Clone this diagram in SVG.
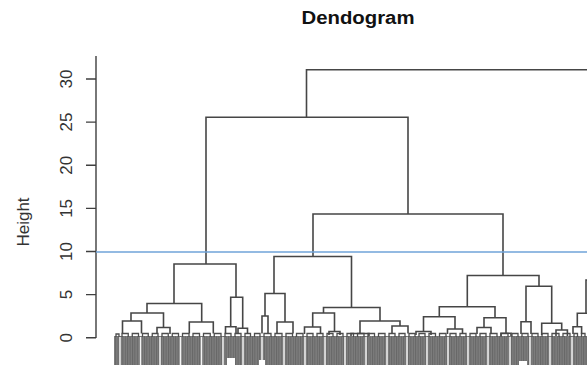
<svg xmlns="http://www.w3.org/2000/svg" width="587" height="365" viewBox="0 0 587 365">
  <defs>
    <style>
      .br { fill: none; stroke: #464646; stroke-width: 1.6; }
      .lf { fill: none; stroke: #4e4e4e; stroke-width: 1.3; }
      .ax { fill: none; stroke: #3f3f3f; stroke-width: 1.4; }
      .tk { font-family: "Liberation Sans", Arial, sans-serif; font-size: 17px; fill: #333; text-anchor: middle; }
      .gap { stroke: #f4f4f4; stroke-width: 1.5; }
    </style>
    <!-- dense overlapping leaf labels render as a striped grey band -->
    <pattern id="stripes" x="0" y="0" width="2.4" height="10" patternUnits="userSpaceOnUse">
      <rect width="2.4" height="10" fill="#7e7e7e"/>
      <rect x="0" width="1" height="10" fill="#666"/>
    </pattern>
  </defs>

  <rect width="587" height="365" fill="#fff"/>

  <!-- title -->
  <text x="358" y="24" font-family="Liberation Sans, Arial, sans-serif" font-size="18" font-weight="bold" fill="#111" text-anchor="middle" textLength="113" lengthAdjust="spacingAndGlyphs">Dendogram</text>

  <!-- y axis -->
  <g id="axis">
    <path class="ax" d="M96,56 V338 M86,79 H96 M86,122.1 H96 M86,165.2 H96 M86,208.4 H96 M86,251.5 H96 M86,294.6 H96 M86,337.7 H96"/>
    <text class="tk" transform="translate(72,79) rotate(-90)">30</text>
    <text class="tk" transform="translate(72,122.1) rotate(-90)">25</text>
    <text class="tk" transform="translate(72,165.2) rotate(-90)">20</text>
    <text class="tk" transform="translate(72,208.4) rotate(-90)">15</text>
    <text class="tk" transform="translate(72,251.5) rotate(-90)">10</text>
    <text class="tk" transform="translate(72,294.6) rotate(-90)">5</text>
    <text class="tk" transform="translate(72,337.7) rotate(-90)">0</text>
    <text class="tk" font-size="18" transform="translate(29,222) rotate(-90)">Height</text>
  </g>

  <!-- leaf label band -->
  <g id="leaves">
    <rect x="114" y="336" width="473" height="29" fill="url(#stripes)"/>
    <path class="gap" d="M120,337 V365 M140.5,337 V365 M160,337 V365 M180.5,337 V365 M201.5,337 V365 M223,337 V365 M243,337 V365 M262,337 V365 M284,337 V365 M305,337 V365 M325,337 V365 M345,337 V365 M366,337 V365 M387,337 V365 M407,337 V365 M427,337 V365 M448,337 V365 M468,337 V365 M488,337 V365 M510,337 V365 M530,337 V365 M550,337 V365 M572,337 V365"/>
    <g fill="#fff">
      <rect x="227" y="358" width="8" height="7"/>
      <rect x="259" y="360" width="6" height="5"/>
      <rect x="519" y="361" width="8" height="4"/>
    </g>
    <path class="lf" d="M116,337 V334 H119 V337
      M122,337 V333.5 H128.25 V337 M132.25,337 V333.5 H138.5 V337
      M142.5,337 V333.5 H148.25 V337 M152.25,337 V333.5 H158 V337
      M162,337 V333.5 H168.25 V337 M172.25,337 V333.5 H178.5 V337
      M182.5,337 V333.5 H189 V337 M193,337 V333.5 H199.5 V337
      M203.5,337 V333.5 H210.25 V337 M214.25,337 V333.5 H221 V337
      M225,337 V333.5 H231 V337 M235,337 V333.5 H241 V337
      M245,337 V333.5 H250.5 V337 M254.5,337 V333.5 H260 V337
      M264,337 V333.5 H271 V337 M275,337 V333.5 H282 V337
      M286,337 V333.5 H292.5 V337 M296.5,337 V333.5 H303 V337
      M307,337 V333.5 H313 V337 M317,337 V333.5 H323 V337
      M327,337 V333.5 H333 V337 M337,337 V333.5 H343 V337
      M347,337 V333.5 H353.5 V337 M357.5,337 V333.5 H364 V337
      M368,337 V333.5 H374.5 V337 M378.5,337 V333.5 H385 V337
      M389,337 V333.5 H395 V337 M399,337 V333.5 H405 V337
      M409,337 V333.5 H415 V337 M419,337 V333.5 H425 V337
      M429,337 V333.5 H435.5 V337 M439.5,337 V333.5 H446 V337
      M450,337 V333.5 H456 V337 M460,337 V333.5 H466 V337
      M470,337 V333.5 H476 V337 M480,337 V333.5 H486 V337
      M490,337 V333.5 H497 V337 M501,337 V333.5 H508 V337
      M512,337 V333.5 H518 V337 M522,337 V333.5 H528 V337
      M532,337 V333.5 H538 V337 M542,337 V333.5 H548 V337
      M552,337 V333.5 H559 V337 M563,337 V333.5 H570 V337
      M574,337 V333.5 H577.5 V337 M581.5,337 V333.5 H585 V337"/>
  </g>

  <!-- merge brackets, top down -->
  <g id="tree">
    <path id="root" class="br" d="M306.5,117.3 V69.7 H590"/>
    <path id="n-left" class="br" d="M206,264 V117.3 H408 V214"/>
    <path id="n-b" class="br" d="M313,256.5 V214 H503 V275.5"/>
    <path id="n-a" class="br" d="M174,303.5 V264 H236 V297.3"/>
    <path id="n-c" class="br" d="M274,293.5 V256.5 H351.5 V307.5"/>
    <path id="n-d" class="br" d="M467.3,306.7 V275.5 H539 V286.2"/>
    <path id="n-a1" class="br" d="M147,313 V303.5 H201.7 V322"/>
    <path id="n-a11" class="br" d="M131,321 V313 H163.5 V327.5"/>
    <path id="n-a111" class="br" d="M122.5,333.5 V321 H141.5 V333.5"/>
    <path id="n-a112" class="br" d="M157,334 V327.5 H170 V334"/>
    <path id="n-a12" class="br" d="M189.3,333.5 V322 H213.3 V333.5"/>
    <path id="n-a2" class="br" d="M230.7,326.7 V297.3 H242.7 V328.3"/>
    <path id="n-a21" class="br" d="M225.5,333.5 V326.7 H236 V333.5"/>
    <path id="n-a22" class="br" d="M238,334 V328.3 H247.5 V334"/>
    <path id="n-c1" class="br" d="M265,316 V293.5 H285 V322"/>
    <path id="n-c11" class="br" d="M262,333.5 V316 H268 V333.5"/>
    <path id="n-c12" class="br" d="M277,333.5 V322 H293 V333.5"/>
    <path id="n-c2" class="br" d="M323.5,313 V307.5 H380 V321"/>
    <path id="n-c21" class="br" d="M312.7,327 V313 H334.5 V331.5"/>
    <path id="n-c211" class="br" d="M304.5,334 V327 H320.5 V334"/>
    <path id="n-c212" class="br" d="M329,335 V331.5 H340 V335"/>
    <path id="n-c22" class="br" d="M360,333.5 V321 H400 V326"/>
    <path id="n-c221" class="br" d="M351,336 V333.5 H369 V336"/>
    <path id="n-c222" class="br" d="M392,333.5 V326 H408 V333.5"/>
    <path id="n-d1" class="br" d="M439.3,316.7 V306.7 H495 V317.7"/>
    <path id="n-d11" class="br" d="M423.5,331.5 V316.7 H455 V329"/>
    <path id="n-d111" class="br" d="M416,335 V331.5 H431 V335"/>
    <path id="n-d112" class="br" d="M447.5,334 V329 H462.5 V334"/>
    <path id="n-d12" class="br" d="M484,327.5 V317.7 H506 V333.3"/>
    <path id="n-d121" class="br" d="M477,334 V327.5 H491 V334"/>
    <path id="n-d122" class="br" d="M501,336 V333.3 H511 V336"/>
    <path id="n-d2" class="br" d="M526,321.7 V286.2 H551.7 V323.3"/>
    <path id="n-d21" class="br" d="M521,334 V321.7 H531 V334"/>
    <path id="n-d22" class="br" d="M541.7,335 V323.3 H561.7 V330"/>
    <path id="n-d222" class="br" d="M556,336 V330 H567.4 V336"/>
    <path id="n-e" class="br" d="M586,313.3 V280 H590"/>
    <path id="n-e1" class="br" d="M577.3,326.7 V313.3 H590"/>
    <path id="n-e11" class="br" d="M573,334 V326.7 H581.6 V334"/>
  </g>

  <!-- cut height -->
  <g id="cut">
    <path d="M96,252 H587" stroke="#6fa3d9" stroke-width="1.3" fill="none"/>
  </g>
</svg>
